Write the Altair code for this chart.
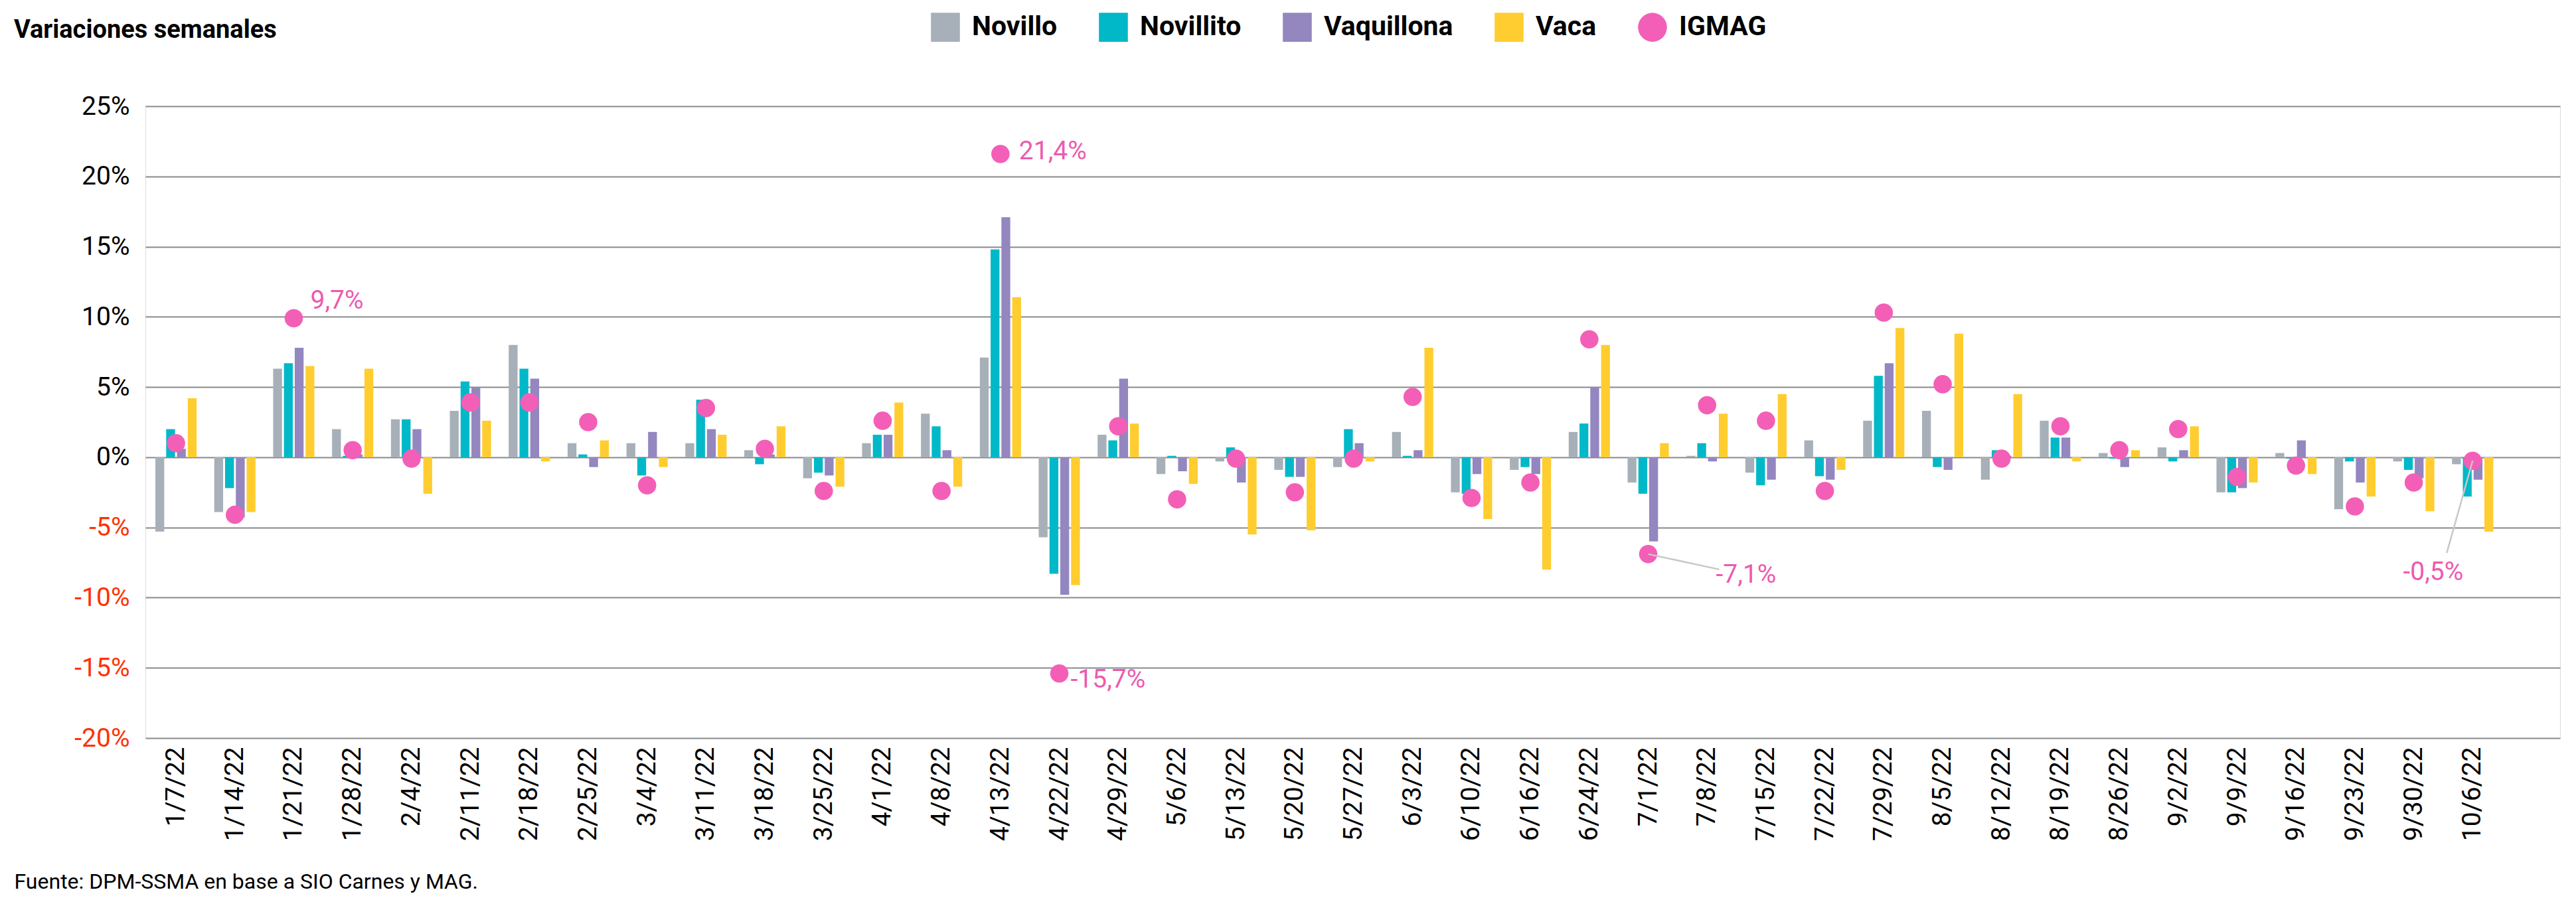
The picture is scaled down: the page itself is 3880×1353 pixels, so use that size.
import altair as alt
import pandas as pd

# ---------------- data ----------------
weeks = ["1/7/22", "1/14/22", "1/21/22", "1/28/22", "2/4/22", "2/11/22", "2/18/22", "2/25/22",
         "3/4/22", "3/11/22", "3/18/22", "3/25/22", "4/1/22", "4/8/22", "4/13/22", "4/22/22",
         "4/29/22", "5/6/22", "5/13/22", "5/20/22", "5/27/22", "6/3/22", "6/10/22", "6/16/22",
         "6/24/22", "7/1/22", "7/8/22", "7/15/22", "7/22/22", "7/29/22", "8/5/22", "8/12/22",
         "8/19/22", "8/26/22", "9/2/22", "9/9/22", "9/16/22", "9/23/22", "9/30/22", "10/6/22"]

novillo = [-5.3, -3.9, 6.3, 2.0, 2.7, 3.3, 8.0, 1.0, 1.0, 1.0, 0.5, -1.5, 1.0, 3.1, 7.1, -5.7,
           1.6, -1.2, -0.3, -0.9, -0.7, 1.8, -2.5, -0.9, 1.8, -1.8, 0.1, -1.1, 1.2, 2.6, 3.3, -1.6,
           2.6, 0.3, 0.7, -2.5, 0.3, -3.7, -0.3, -0.5]
novillito = [2.0, -2.2, 6.7, 0.1, 2.7, 5.4, 6.3, 0.2, -1.3, 4.1, -0.5, -1.1, 1.6, 2.2, 14.8, -8.3,
             1.2, 0.1, 0.7, -1.4, 2.0, 0.1, -2.6, -0.7, 2.4, -2.6, 1.0, -2.0, -1.35, 5.8, -0.7, 0.5,
             1.4, -0.1, -0.3, -2.5, -0.1, -0.3, -0.9, -2.8]
vaquillona = [0.6, -4.3, 7.8, 0.2, 2.0, 5.0, 5.6, -0.7, 1.8, 2.0, 0.2, -1.3, 1.6, 0.5, 17.1, -9.8,
              5.6, -1.0, -1.8, -1.4, 1.0, 0.5, -1.2, -1.2, 5.0, -6.0, -0.3, -1.6, -1.6, 6.7, -0.9, 0.1,
              1.4, -0.7, 0.5, -2.2, 1.2, -1.8, -1.5, -1.6]
vaca = [4.2, -3.9, 6.5, 6.3, -2.6, 2.6, -0.3, 1.2, -0.7, 1.6, 2.2, -2.1, 3.9, -2.1, 11.4, -9.1,
        2.4, -1.9, -5.5, -5.2, -0.3, 7.8, -4.4, -8.0, 8.0, 1.0, 3.1, 4.5, -0.9, 9.2, 8.8, 4.5,
        -0.3, 0.5, 2.2, -1.8, -1.2, -2.8, -3.85, -5.3]
igmag = [1.0, -4.1, 9.9, 0.5, -0.1, 3.9, 3.9, 2.5, -2.0, 3.5, 0.6, -2.4, 2.6, -2.4, 21.6, -15.4,
         2.2, -3.0, -0.1, -2.5, -0.1, 4.3, -2.9, -1.8, 8.4, -6.9, 3.7, 2.6, -2.4, 10.3, 5.2, -0.1,
         2.2, 0.5, 2.0, -1.4, -0.6, -3.5, -1.8, -0.25]

series_names = ["Novillo", "Novillito", "Vaquillona", "Vaca", "IGMAG"]
y_ticks = [-20, -15, -10, -5, 0, 5, 10, 15, 20, 25]

ann_weeks = ["1/21/22", "4/13/22", "4/22/22", "7/1/22", "10/6/22"]
ann_labels = ["9,7%", "21,4%", "-15,7%", "-7,1%", "-0,5%"]

title_text = "Variaciones semanales"
source_text = "Fuente: DPM-SSMA en base a SIO Carnes y MAG."

# ---------------- styles ----------------
colors = ["#A7B0B8", "#00B8C8", "#9486BF", "#FFCD2F", "#F35FB7"]
shapes = ["square", "square", "square", "square", "circle"]
ann_color = "#EC5AAE"
FONT = "Roboto"
W, H = 3637, 952
PAD_L, PAD_T = 211, 152

# annotation placement styles (align, dx, dy) in the same order as ann_weeks
ann_styles = [("left", 25, -26), ("left", 28, -4), ("left", 17, 9), ("left", 102, 31), ("right", -14, 168)]
# leader lines: (week, x2Offset, y2Offset)
leader_styles = [("7/1/22", 107, 23), ("10/6/22", -39, 139)]

# ---------------- tables ----------------
bar_rows = []
for i, w in enumerate(weeks):
    for name, arr in zip(series_names[:4], [novillo, novillito, vaquillona, vaca]):
        bar_rows.append({"semana": w, "serie": name, "valor": arr[i]})
bars_df = pd.DataFrame(bar_rows)
dots_df = pd.DataFrame({"semana": weeks, "serie": "IGMAG", "valor": igmag})
ann_df = pd.DataFrame({"semana": ann_weeks, "label": ann_labels,
                       "valor": [igmag[weeks.index(w)] for w in ann_weeks]})

# ---------------- scales ----------------
x_scale = alt.Scale(domain=weeks, paddingInner=0.3, paddingOuter=0.652, align=0.13)
y_scale = alt.Scale(domain=[-20, 25], nice=False, zero=False)
color_scale = alt.Scale(domain=series_names, range=colors)
shape_scale = alt.Scale(domain=series_names, range=shapes)

x_axis = alt.Axis(labelAngle=-90, labelFont=FONT, labelFontSize=39, labelColor="black",
                  labelPadding=13, ticks=False, domain=False, grid=False,
                  title=source_text, titleFont=FONT, titleFontSize=32, titleFontWeight="normal",
                  titleColor="black", titleAnchor="start", titleAlign="left", titleBaseline="middle",
                  titleX=-198, titleY=216, titleAngle=0)
y_axis = alt.Axis(values=y_ticks, labelExpr="datum.value + '%'",
                  labelColor={"condition": {"test": "datum.value < 0", "value": "#FF3000"}, "value": "#000000"},
                  labelFont=FONT, labelFontSize=39, labelPadding=24, ticks=False, domain=False,
                  grid=True, gridColor="#8a8a8a", gridWidth=2, title=None)

legend = alt.Legend(orient="none", legendX=1183, legendY=-141, direction="horizontal", columns=5,
                    title=None, labelFont=FONT, labelFontSize=41, labelFontWeight="bold",
                    labelColor="black", labelLimit=500, symbolSize=1900, symbolStrokeWidth=0,
                    symbolOpacity=1, labelOffset=18, columnPadding=62, padding=0)

X = alt.X("semana:N", scale=x_scale, sort=weeks, axis=x_axis)
Y = alt.Y("valor:Q", scale=y_scale, axis=y_axis)

bars = alt.Chart(bars_df).mark_bar(opacity=1).encode(
    x=X,
    xOffset=alt.XOffset("serie:N", sort=series_names[:4],
                        scale=alt.Scale(domain=series_names[:4], paddingInner=0.18, paddingOuter=0)),
    y=Y,
    color=alt.Color("serie:N", scale=color_scale, legend=legend),
)

dots = alt.Chart(dots_df).mark_point(filled=True, size=760, opacity=1).encode(
    x=X, y=Y,
    color=alt.Color("serie:N", scale=color_scale, legend=legend),
    shape=alt.Shape("serie:N", scale=shape_scale, legend=legend),
)

layers = [bars, dots]

for wk, x2o, y2o in leader_styles:
    rule = alt.Chart(ann_df[ann_df["semana"] == wk]).mark_rule(
        color="#C8C8C8", strokeWidth=2.5, x2Offset=x2o, y2Offset=y2o
    ).encode(x=X, x2="semana:N", y=Y, y2="valor:Q")
    layers.append(rule)

for wk, (align, dx, dy) in zip(ann_weeks, ann_styles):
    txt = alt.Chart(ann_df[ann_df["semana"] == wk]).mark_text(
        align=align, baseline="middle", dx=dx, dy=dy, font=FONT, fontSize=39, color=ann_color
    ).encode(x=X, y=Y, text="label:N")
    layers.append(txt)

chart = alt.layer(*layers).properties(
    width=W, height=H,
    autosize="none",
    padding={"left": PAD_L, "top": PAD_T, "right": 16, "bottom": 241},
    title=alt.TitleParams(title_text, anchor="start", frame="group", dx=-198, dy=50,
                          font=FONT, fontSize=38, fontWeight="bold", color="black"),
).configure_view(stroke=None).configure(background="white")

chart.save("out.html", embed_options={"renderer": "svg", "actions": False})
